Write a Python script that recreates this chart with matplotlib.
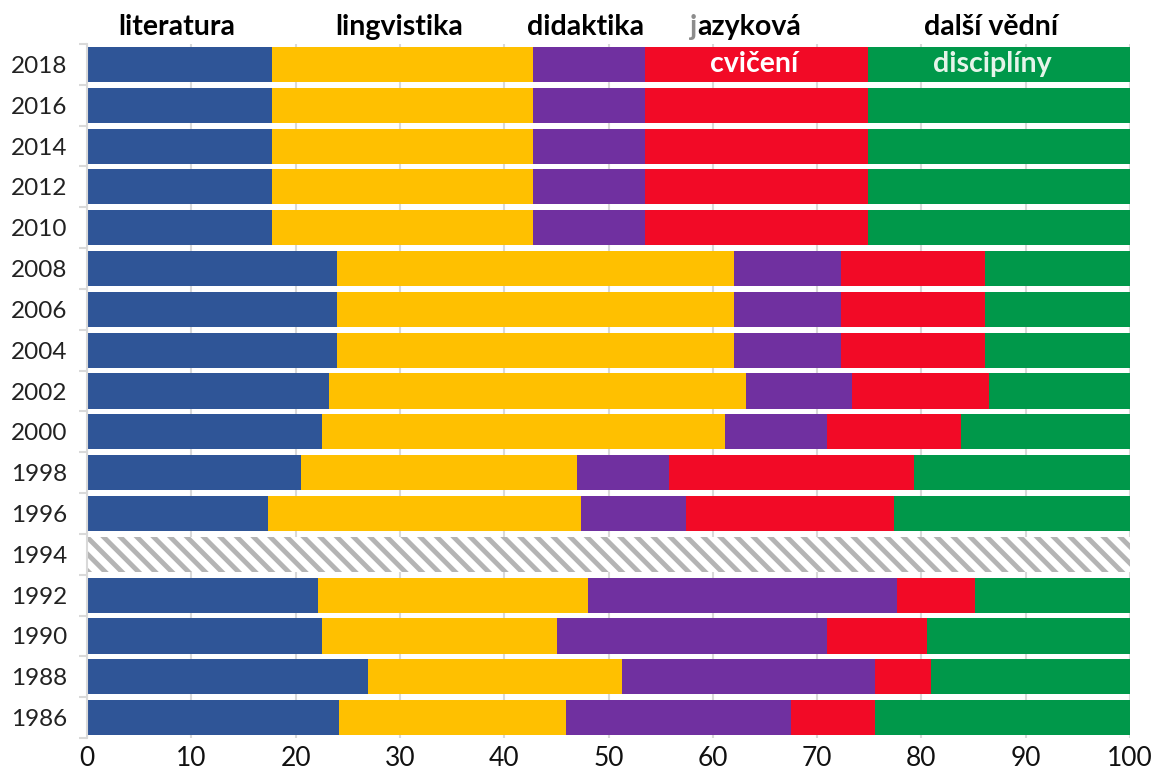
import numpy as np
import matplotlib
matplotlib.use("Agg")
import matplotlib.pyplot as plt

years = ["1986", "1988", "1990", "1992", "1994", "1996", "1998", "2000", "2002",
         "2004", "2006", "2008", "2010", "2012", "2014", "2016", "2018"]
literatura = [24.2, 26.9, 22.5, 22.1, 0, 17.4, 20.5, 22.5, 23.2, 24.0, 24.0, 24.0,
              17.7, 17.7, 17.7, 17.7, 17.7]
lingvistika = [21.7, 24.4, 22.6, 25.9, 0, 30.0, 26.5, 38.7, 40.0, 38.0, 38.0, 38.0,
               25.1, 25.1, 25.1, 25.1, 25.1]
didaktika = [21.6, 24.2, 25.8, 29.7, 0, 10.0, 8.8, 9.7, 10.1, 10.3, 10.3, 10.3,
             10.7, 10.7, 10.7, 10.7, 10.7]
jazykova_cviceni = [8.0, 5.4, 9.6, 7.4, 0, 20.0, 23.5, 12.9, 13.2, 13.8, 13.8, 13.8,
                    21.4, 21.4, 21.4, 21.4, 21.4]
dalsi_discipliny = [24.5, 19.1, 19.5, 14.9, 0, 22.6, 20.7, 16.2, 13.5, 13.9, 13.9, 13.9,
                    25.1, 25.1, 25.1, 25.1, 25.1]
bez_dat = [0, 0, 0, 0, 100, 0, 0, 0, 0, 0, 0, 0, 0, 0, 0, 0, 0]

series = [literatura, lingvistika, didaktika, jazykova_cviceni, dalsi_discipliny]
colors = ["#2F5597", "#FFC000", "#7030A0", "#F20A26", "#00984A"]

plt.rcParams['font.family'] = ['Lato', 'DejaVu Sans']
plt.rcParams['hatch.linewidth'] = 3.5

fig = plt.figure(figsize=(11.52, 7.8), dpi=100)
ax = fig.add_axes([0.0755, 0.0538, 0.9055, 0.8898])

y = np.arange(len(years))
left = np.zeros(len(years))
for vals, c in zip(series, colors):
    v = np.array(vals, dtype=float)
    ax.barh(y, v, left=left, height=0.86, color=c, linewidth=0, zorder=2)
    left += v

ax.barh(y, bez_dat, height=0.86, facecolor="white", edgecolor="#B4B4B4",
        hatch="\\\\", linewidth=0, zorder=2)

ax.set_xlim(0, 100)
ax.set_ylim(-0.5, len(years) - 0.5)
ax.set_xticks(np.arange(0, 101, 10))
ax.set_yticks(y)
ax.set_yticklabels(years)
ax.set_yticks(np.arange(-0.5, len(years), 1), minor=True)
ax.tick_params(axis='y', which='major', length=0, pad=14, labelsize=17.5, colors="#222222")
ax.tick_params(axis='y', which='minor', length=6, color="#D9D9D9", width=1.5)
ax.tick_params(axis='x', length=0, pad=6, labelsize=19, colors="#111111")
ax.grid(axis='x', color="#D9D9D9", linewidth=1.5, zorder=0)
ax.set_axisbelow(True)
for s in ["top", "right", "bottom"]:
    ax.spines[s].set_visible(False)
ax.spines["left"].set_color("#D9D9D9")
ax.spines["left"].set_linewidth(1.5)

top_y = len(years) - 0.5 + 0.42
hdr = dict(fontsize=20.5, fontweight='bold', ha='center', va='center', clip_on=False)
ax.text(8.6, top_y, "literatura", color="black", **hdr)
ax.text(29.9, top_y, "lingvistika", color="black", **hdr)
ax.text(47.8, top_y, "didaktika", color="black", **hdr)
t_jaz = ax.text(63.1, top_y, "jazyková", color="black", alpha=0, **hdr)
ax.text(86.7, top_y, "další vědní", color="black", **hdr)
ax.text(64.0, len(years) - 1, "cvičení", color="white", zorder=5, **hdr)
ax.text(86.8, len(years) - 1, "disciplíny", color="#E6F4EA", zorder=5, **hdr)

fig.canvas.draw()
bb = t_jaz.get_window_extent(renderer=fig.canvas.get_renderer())
t_jaz.remove()
inv = ax.transData.inverted()
x0 = inv.transform((bb.x0, bb.y0))[0]
x1 = inv.transform((bb.x1, bb.y0))[0]
hdr2 = dict(hdr)
hdr2.pop('ha')
ax.text(x0, top_y, "j", color="#8C8C8C", ha='left', **hdr2)
ax.text(x1, top_y, "azyková", color="black", ha='right', **hdr2)

fig.savefig("out.png", dpi=100)
